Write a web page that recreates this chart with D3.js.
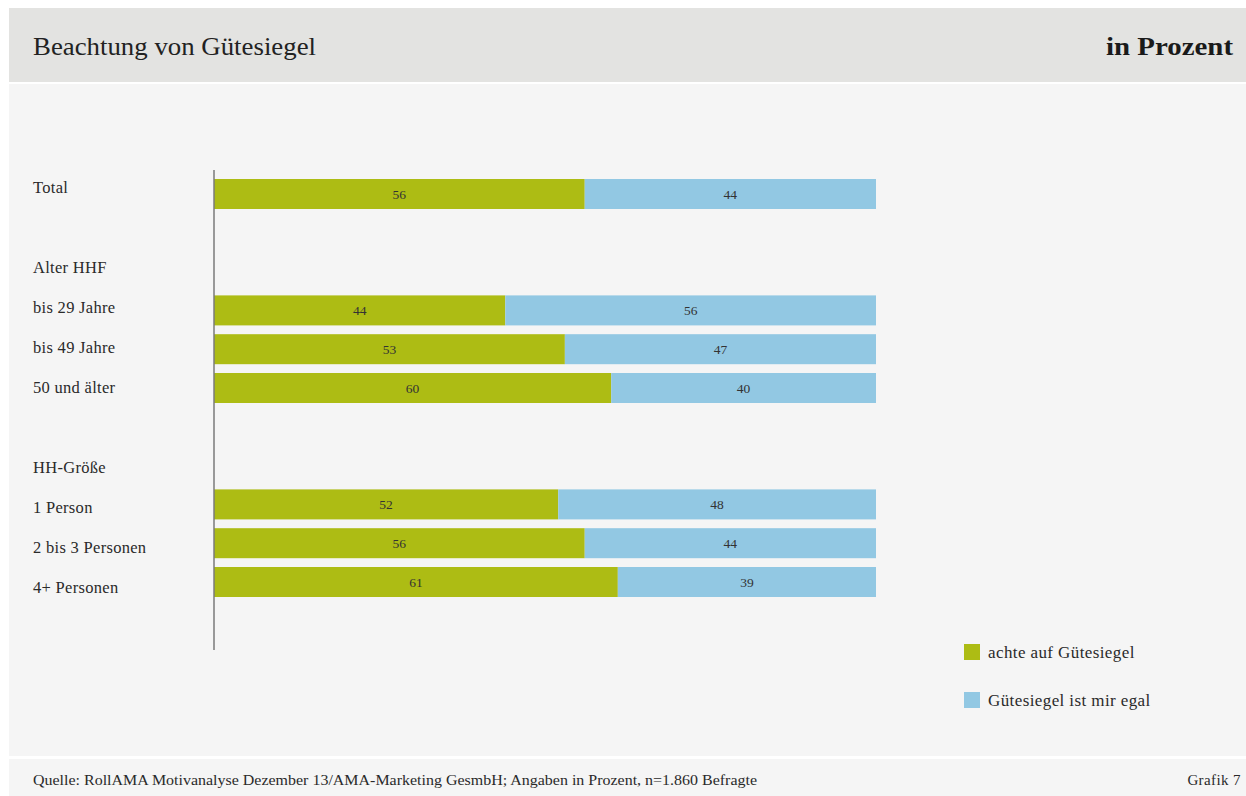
<!DOCTYPE html>
<html><head><meta charset="utf-8">
<script src="https://cdn.jsdelivr.net/npm/d3@7"></script>
<style>
html,body{margin:0;padding:0;background:#fff;}
svg text{font-family:"Liberation Serif","DejaVu Serif",serif;}
</style></head>
<body>
<svg id="chart" width="1246" height="796"></svg>
<script>
const rowLabels = ["Total", "", "Alter HHF", "bis 29 Jahre", "bis 49 Jahre", "50 und älter", "", "HH-Größe", "1 Person", "2 bis 3 Personen", "4+ Personen"];
const barCategories = ["Total", "bis 29 Jahre", "bis 49 Jahre", "50 und älter", "1 Person", "2 bis 3 Personen", "4+ Personen"];
const achteValues = [56, 44, 53, 60, 52, 56, 61];
const egalValues = [44, 56, 47, 40, 48, 44, 39];
const seriesNames = ["achte auf Gütesiegel", "Gütesiegel ist mir egal"];
const seriesColors = ["#adbc14", "#92c8e3"];
const titleText = "Beachtung von Gütesiegel";
const unitText = "in Prozent";
const sourceText = "Quelle: RollAMA Motivanalyse Dezember 13/AMA-Marketing GesmbH; Angaben in Prozent, n=1.860 Befragte";
const grafikText = "Grafik 7";

const svg = d3.select("#chart");
// panels
svg.append("rect").attr("x", 9).attr("y", 8).attr("width", 1237).attr("height", 74).attr("fill", "#e3e3e1");
svg.append("rect").attr("x", 9).attr("y", 84).attr("width", 1237).attr("height", 672).attr("fill", "#f5f5f5");
svg.append("rect").attr("x", 9).attr("y", 759).attr("width", 1237).attr("height", 37).attr("fill", "#f5f5f5");

svg.append("text").attr("x", 33).attr("y", 55).attr("font-size", 25).attr("fill", "#222")
  .attr("textLength", 283).attr("lengthAdjust", "spacingAndGlyphs").text(titleText);
svg.append("text").attr("x", 1233).attr("y", 55).attr("font-size", 25).attr("font-weight", "bold")
  .attr("text-anchor", "end").attr("fill", "#1a1a1a")
  .attr("textLength", 127).attr("lengthAdjust", "spacingAndGlyphs").text(unitText);

const rowKeys = rowLabels.map((d, i) => i);
const yLabel = d3.scalePoint().domain(rowKeys).range([187, 587]);
const yBar = d3.scalePoint().domain(rowKeys).range([194, 582]);
const x = d3.scaleLinear().domain([0, 100]).range([214, 876]);
const barH = 30;

const g = svg.append("g");
g.selectAll("text.rowlabel").data(rowLabels.map((t, i) => ({t, i})).filter(d => d.t))
  .join("text").attr("class", "rowlabel")
  .attr("x", 33).attr("y", d => yLabel(d.i)).attr("dy", "0.35em")
  .attr("font-size", 16.5).attr("letter-spacing", 0.3).attr("fill", "#2a2a2a").text(d => d.t);

const bars = barCategories.map((c, k) => ({
  c, idx: rowLabels.indexOf(c), a: achteValues[k], e: egalValues[k]
}));

const segs = [];
bars.forEach(b => {
  segs.push({idx: b.idx, x0: 0, x1: b.a, v: b.a, s: 0});
  segs.push({idx: b.idx, x0: b.a, x1: b.a + b.e, v: b.e, s: 1});
});
g.selectAll("rect.seg").data(segs).join("rect").attr("class", "seg")
  .attr("x", d => x(d.x0)).attr("width", d => x(d.x1) - x(d.x0))
  .attr("y", d => yBar(d.idx) - barH / 2).attr("height", barH)
  .attr("fill", d => seriesColors[d.s]);
g.selectAll("text.val").data(segs).join("text").attr("class", "val")
  .attr("x", d => (x(d.x0) + x(d.x1)) / 2).attr("y", d => yBar(d.idx)).attr("dy", "0.35em")
  .attr("text-anchor", "middle").attr("font-size", 13.5).attr("fill", "#333").text(d => d.v);

// axis line
g.append("line").attr("x1", x(0)).attr("x2", x(0)).attr("y1", 170).attr("y2", 650)
  .attr("stroke", "#7a7a7a").attr("stroke-width", 1.5);

// legend
const leg = svg.append("g");
seriesNames.forEach((n, i) => {
  const ly = 652 + i * 48;
  leg.append("rect").attr("x", 964).attr("y", ly - 8).attr("width", 16).attr("height", 16).attr("fill", seriesColors[i]);
  leg.append("text").attr("x", 988).attr("y", ly).attr("dy", "0.35em").attr("font-size", 17).attr("letter-spacing", 0.4)
    .attr("fill", "#2a2a2a").text(n);
});

svg.append("text").attr("x", 33).attr("y", 780).attr("dy", "0.35em").attr("font-size", 14).attr("fill", "#2a2a2a")
  .attr("textLength", 724).attr("lengthAdjust", "spacingAndGlyphs").text(sourceText);
svg.append("text").attr("x", 1241).attr("y", 780).attr("dy", "0.35em").attr("font-size", 15).attr("letter-spacing", 0.4)
  .attr("fill", "#2a2a2a").attr("text-anchor", "end").text(grafikText);
</script>
</body></html>
